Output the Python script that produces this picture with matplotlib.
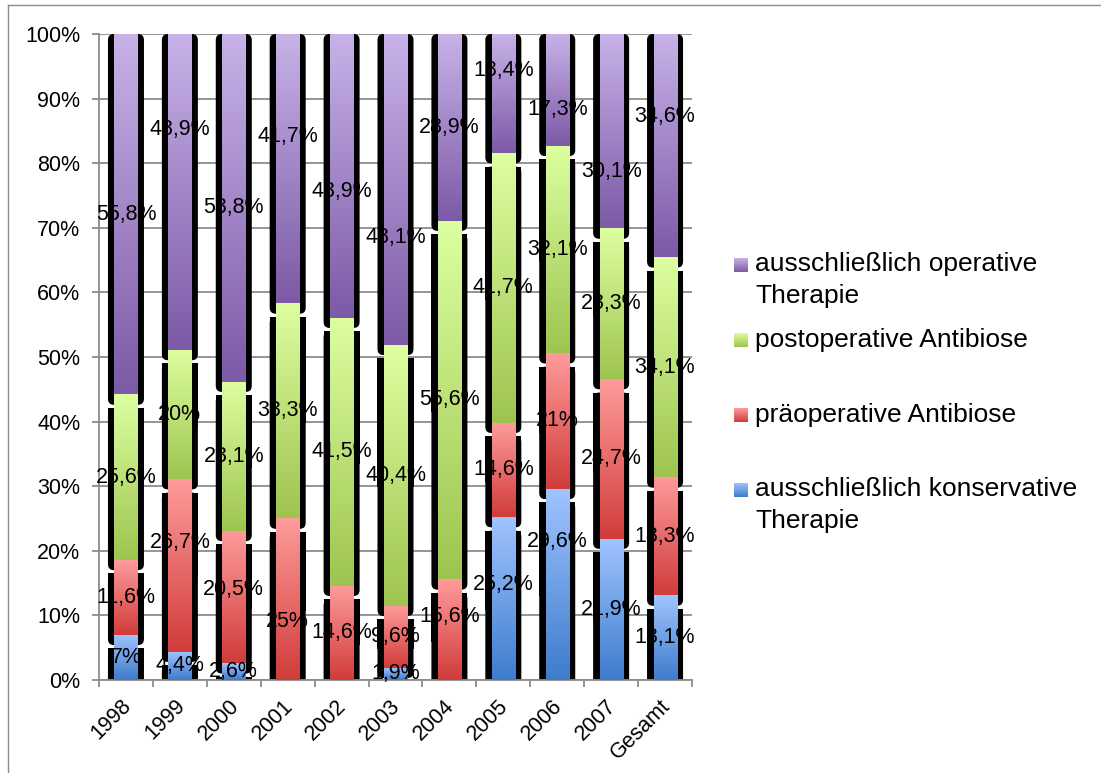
import matplotlib
matplotlib.use("Agg")
import numpy as np
import matplotlib.pyplot as plt
import matplotlib.transforms as mtrans
from matplotlib.patches import FancyBboxPatch, Rectangle
from matplotlib.lines import Line2D
from matplotlib.colors import LinearSegmentedColormap

plt.rcParams['font.family'] = ['Liberation Sans', 'DejaVu Sans']

# --- data (percent per year) ---
years = ["1998", "1999", "2000", "2001", "2002", "2003", "2004",
         "2005", "2006", "2007", "Gesamt"]
konservativ = [7, 4.4, 2.6, 0, 0, 1.9, 0, 25.2, 29.6, 21.9, 13.1]
praeoperativ = [11.6, 26.7, 20.5, 25, 14.6, 9.6, 15.6, 14.6, 21, 24.7, 18.3]
postoperativ = [25.6, 20, 23.1, 33.3, 41.5, 40.4, 55.6, 41.7, 32.1, 23.3, 34.1]
operativ = [55.8, 48.9, 53.8, 41.7, 43.9, 48.1, 28.9, 18.4, 17.3, 30.1, 34.6]
names = ["ausschließlich konservative\nTherapie", "präoperative Antibiose",
         "postoperative Antibiose", "ausschließlich operative\nTherapie"]

# (dark bottom, light top) for each series
grads = [("#3E7CCC", "#A0C4FF"), ("#D03C3A", "#FF9B9B"),
         ("#9EC450", "#DDFFA0"), ("#7C5AA6", "#C8B2E8")]

# label nudges (series, column) -> shift in percent points, as placed in the original
label_shift = {(3, 1): 9.7, (1, 1): 3.5, (1, 2): 1.2, (1, 3): -3.5, (3, 3): 5,
               (3, 4): -2.5, (3, 5): -7.5, (1, 6): 2, (0, 7): 2.2, (3, 7): 3.6,
               (0, 8): 6.7, (3, 8): -3, (3, 9): -6.3, (3, 10): 4.5}

W, H = 1101, 773
fig = plt.figure(figsize=(W / 100, H / 100), dpi=100)
ax = fig.add_axes([99 / W, 1 - 680 / H, 593 / W, 646 / H])

series = [np.array(s, float) for s in (konservativ, praeoperativ, postoperativ, operativ)]
total = sum(series)
shares = [s / total * 100 for s in series]
x = np.arange(len(years))

px_x = 593 / len(years)   # pixels per category
px_y = 646 / 100          # pixels per percent
asp = px_x / px_y
shadow_w = 0.668
bar_w = 0.427
r = 6 / px_x

grad = np.linspace(0, 1, 256).reshape(-1, 1)
bottom = np.zeros(len(years))
for k, vals in enumerate(shares):
    cmap = LinearSegmentedColormap.from_list("g%d" % k, grads[k])
    # black rounded shadows
    for i in range(len(years)):
        if vals[i] <= 0:
            continue
        top_seg = (k == len(shares) - 1)
        t = 100 if top_seg else bottom[i] + vals[i] - 2.1
        b = bottom[i] - 1.6
        if t <= 0:
            continue
        ax.add_patch(FancyBboxPatch((x[i] - shadow_w / 2, b), shadow_w, t - b,
                                    boxstyle="round,pad=0,rounding_size=%f" % r,
                                    mutation_aspect=asp, fc="black", ec="none", zorder=2))
        if not top_seg:
            ax.add_patch(Rectangle((x[i] - shadow_w / 2, (t + b) / 2), shadow_w, (t - b) / 2,
                                   fc="black", ec="none", zorder=2))
    bars = ax.bar(x, vals, bar_w, bottom=bottom, color="none", zorder=3)
    for i, p in enumerate(bars):
        if p.get_height() <= 0:
            continue
        x0, y0 = p.get_x(), p.get_y()
        ax.imshow(grad, cmap=cmap, origin="lower", aspect="auto", zorder=3,
                  extent=[x0, x0 + p.get_width(), y0, y0 + p.get_height()])
        lab = ("%.1f" % (konservativ, praeoperativ, postoperativ, operativ)[k][i]).replace(".0", "")
        lab = lab.replace(".", ",") + "%"
        yl = y0 + p.get_height() / 2 + label_shift.get((k, i), 0)
        ax.text(x[i], yl, lab, ha="center", va="center", fontsize=15.5, zorder=5)
    bottom = bottom + vals

ax.set_xlim(-0.5, len(years) - 0.5)
ax.set_ylim(0, 100)
ax.set_yticks(np.arange(0, 101, 10))
ax.set_yticklabels(["%d%%" % v for v in range(0, 101, 10)], fontsize=15.5)
ax.yaxis.grid(True, color="#8c8c8c", lw=1.3)
ax.set_axisbelow(True)
for s in ("top", "right"):
    ax.spines[s].set_visible(False)
for s in ("left", "bottom"):
    ax.spines[s].set_color("#8c8c8c")
    ax.spines[s].set_linewidth(1.3)
ax.tick_params(axis="y", length=5, width=1.3, color="#8c8c8c", pad=8.5)

ax.set_xticks(x)
ax.set_xticklabels(years, rotation=45, ha="right", va="center",
                   rotation_mode="anchor", fontsize=15.5)
ax.set_xticks(np.arange(-0.5, len(years)), minor=True)
ax.tick_params(axis="x", which="major", length=0, pad=16.5)
ax.tick_params(axis="x", which="minor", length=5, width=1.3, color="#8c8c8c")
shift = mtrans.ScaledTranslation(2 / 100, 0, fig.dpi_scale_trans)
for t in ax.get_xticklabels():
    t.set_transform(t.get_transform() + shift)

# legend, drawn by hand (top entry = top of stack)
leg_y = [265, 340, 415, 490]
for j, k in enumerate([3, 2, 1, 0]):
    cmap = LinearSegmentedColormap.from_list("l%d" % k, grads[k])
    yc = leg_y[j]
    lax = fig.add_axes([734 / W, 1 - (yc + 7) / H, 14 / W, 14 / H])
    lax.imshow(grad, cmap=cmap, origin="lower", aspect="auto")
    lax.axis("off")
    fig.text(755 / W, 1 - (yc - 12.5) / H, names[k], fontsize=19, va="top", ha="left",
             linespacing=1.4)

# outer chart frame (partly cut off in the original)
fig.add_artist(Line2D([8 / W, 8 / W], [0, 1 - 5 / H], transform=fig.transFigure,
                      color="#8c8c8c", lw=1))
fig.add_artist(Line2D([8 / W, 1], [1 - 5 / H, 1 - 5 / H], transform=fig.transFigure,
                      color="#8c8c8c", lw=1))

fig.savefig("out.png", dpi=100)
